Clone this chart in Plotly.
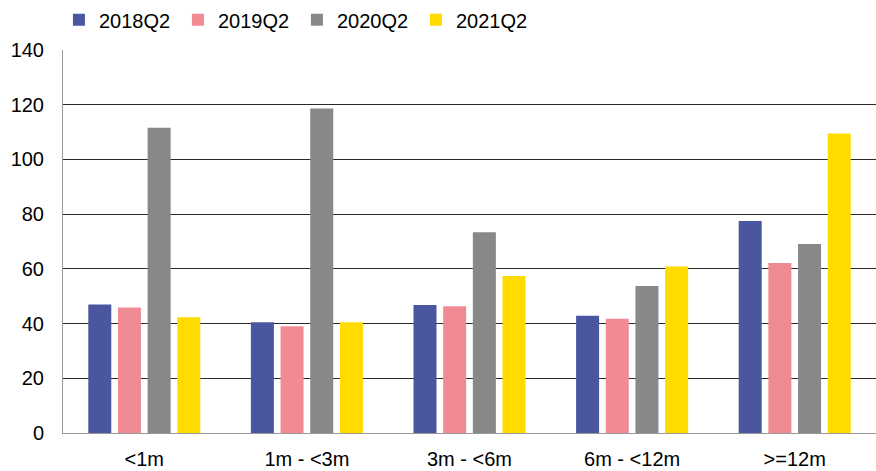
import plotly.graph_objects as go

categories = ["<1m", "1m - <3m", "3m - <6m", "6m - <12m", ">=12m"]
series_names = ["2018Q2", "2019Q2", "2020Q2", "2021Q2"]
v2018 = [47.0, 40.5, 46.8, 42.9, 77.5]
v2019 = [45.9, 39.0, 46.3, 41.8, 62.1]
v2020 = [111.6, 118.6, 73.4, 53.7, 69.1]
v2021 = [42.3, 40.5, 57.4, 60.9, 109.5]
colors = ["#4B56A0", "#F08A93", "#888888", "#FFDB00"]
y_ticks = [0, 20, 40, 60, 80, 100, 120, 140]

fig = go.Figure()
for name, vals, c in zip(series_names, [v2018, v2019, v2020, v2021], colors):
    fig.add_trace(go.Bar(x=categories, y=vals, name=name,
                         marker=dict(color=c, line=dict(width=0))))

fig.update_layout(
    width=876, height=471,
    margin=dict(l=63, r=0, t=50, b=38),
    paper_bgcolor="white", plot_bgcolor="white",
    barmode="group", bargap=0.27, bargroupgap=0.225,
    font=dict(family="Liberation Sans, Arial, sans-serif", size=20, color="#000000"),
    legend=dict(orientation="h", x=-0.005, xanchor="left", y=1.13, yanchor="top",
                font=dict(size=20), itemwidth=30, traceorder="normal",
                entrywidth=74, entrywidthmode="pixels",
                bgcolor="rgba(0,0,0,0)"),
    showlegend=True,
)
fig.update_yaxes(range=[0, 140], tickvals=y_ticks, showgrid=True, gridcolor="#2a2a2a",
                 gridwidth=1, showline=True, linecolor="#999999", linewidth=1,
                 zeroline=False, ticks="", ticklen=0, tickfont=dict(size=20),
                 ticklabelstandoff=14)
fig.update_xaxes(showline=True, linecolor="#999999", linewidth=1, ticks="",
                 tickfont=dict(size=20), ticklabelstandoff=8)

fig.write_html("out.html", config={"displayModeBar": False},
               post_script="document.body.style.margin='0px';")
